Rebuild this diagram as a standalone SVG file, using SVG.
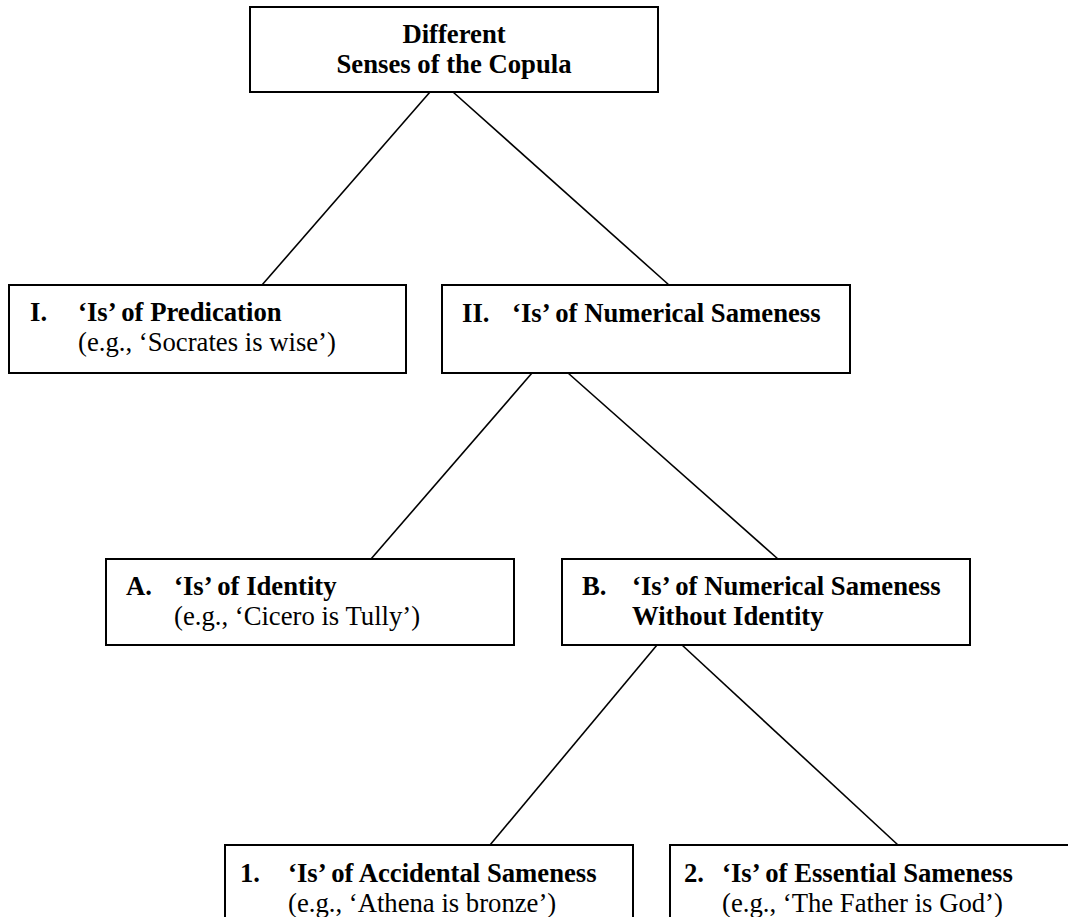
<svg xmlns="http://www.w3.org/2000/svg" width="1068" height="917" viewBox="0 0 1068 917">
<style>
.box{fill:#fff;stroke:#000;stroke-width:2}
.ln{stroke:#000;stroke-width:1.6;fill:none}
text{font-family:"Liberation Serif","Times New Roman",serif;font-size:26.7px;fill:#000}
.b{font-weight:bold}
.c{text-anchor:middle}
</style>
<rect width="1068" height="917" fill="#fff"/>
<g id="connectors">
<line class="ln" x1="430" y1="92" x2="262" y2="285"/>
<line class="ln" x1="453" y1="92" x2="669" y2="285"/>
<line class="ln" x1="532" y1="373" x2="371" y2="559"/>
<line class="ln" x1="568" y1="373" x2="778" y2="559"/>
<line class="ln" x1="657" y1="645" x2="490" y2="845"/>
<line class="ln" x1="682" y1="645" x2="898" y2="845"/>
</g>
<g id="root">
<rect class="box" x="250" y="7" width="408" height="85"/>
<text class="b c" x="454" y="43">Different</text>
<text class="b c" x="454" y="73">Senses of the Copula</text>
</g>
<g id="n1">
<rect class="box" x="9" y="285" width="397" height="88"/>
<text class="b" x="30" y="321">I.</text>
<text class="b" x="78" y="321">‘Is’ of Predication</text>
<text x="78" y="351">(e.g., ‘Socrates is wise’)</text>
</g>
<g id="n2">
<rect class="box" x="442" y="285" width="408" height="88"/>
<text class="b" x="462" y="322">II.</text>
<text class="b" x="512" y="322">‘Is’ of Numerical Sameness</text>
</g>
<g id="nA">
<rect class="box" x="106" y="559" width="408" height="86"/>
<text class="b" x="126" y="595">A.</text>
<text class="b" x="174" y="595">‘Is’ of Identity</text>
<text x="174" y="625">(e.g., ‘Cicero is Tully’)</text>
</g>
<g id="nB">
<rect class="box" x="562" y="559" width="408" height="86"/>
<text class="b" x="582" y="595">B.</text>
<text class="b" x="632" y="595">‘Is’ of Numerical Sameness</text>
<text class="b" x="632" y="625">Without Identity</text>
</g>
<g id="n1a">
<rect class="box" x="225" y="845" width="408" height="100"/>
<text class="b" x="240" y="882">1.</text>
<text class="b" x="288" y="882">‘Is’ of Accidental Sameness</text>
<text x="288" y="912">(e.g., ‘Athena is bronze’)</text>
</g>
<g id="n2a">
<rect class="box" x="670" y="845" width="408" height="100"/>
<text class="b" x="684" y="882">2.</text>
<text class="b" x="722" y="882">‘Is’ of Essential Sameness</text>
<text x="722" y="912">(e.g., ‘The Father is God’)</text>
</g>
</svg>
